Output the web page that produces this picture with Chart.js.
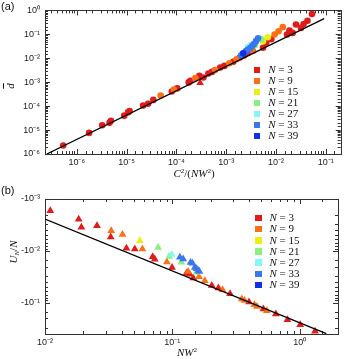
<!DOCTYPE html>
<html>
<head>
<meta charset="utf-8">
<script src="https://cdn.jsdelivr.net/npm/chart.js@4/dist/chart.umd.min.js"></script>
<style>
  body { margin: 0; background: #fff; width: 345px; height: 359px; position: relative; overflow: hidden;
         font-family: "Liberation Sans", Arial, sans-serif; color: #111; }
  canvas { position: absolute; left: 0; }
  #ca { top: 0; }
  #cb { top: 175px; }
  .t { position: absolute; transform: translate(-50%, -50%); white-space: nowrap;
       font-family: "Liberation Serif", "DejaVu Serif", serif; font-size: 11px; }
  .rot { transform: translate(-50%, -50%) rotate(-90deg); }
  .tag { position: absolute; font-size: 11px; }
  .leg { position: absolute; font-family: "Liberation Serif", "DejaVu Serif", serif; font-size: 11px; }
  .leg .row { position: absolute; left: 0; height: 11px; line-height: 11px; white-space: nowrap; }
  .leg .sq { position: absolute; left: 0; top: 2.5px; width: 6.5px; height: 6.5px; }
  .leg .tx { position: absolute; left: 14.5px; top: 0; }
  sup { font-size: 7px; vertical-align: 4px; line-height: 0; }
  sub { font-size: 7px; vertical-align: -2px; line-height: 0; }
</style>
</head>
<body>
<canvas id="ca" width="345" height="180"></canvas>
<canvas id="cb" width="345" height="184"></canvas>

<div class="tag" style="left:1px;top:0px">(a)</div>
<div class="tag" style="left:1px;top:184px">(b)</div>
<div class="t rot" style="left:10px;top:86px"><i style="text-decoration:overline">d</i></div>
<div class="t" style="left:194px;top:173px"><i>C</i><sup>2</sup>/(<i>NW</i><sup>2</sup>)</div>
<div class="t rot" style="left:13px;top:252px"><i>U</i><sub><i>N</i></sub>/<i>N</i></div>
<div class="t" style="left:187px;top:352px"><i>NW</i><sup>2</sup></div>
<div class="leg" id="lega" style="left:253.75px;top:64.2px"></div>
<div class="leg" id="legb" style="left:255px;top:212.2px"></div>

<script>
// valores
const nLabels = ['3', '9', '15', '21', '27', '33', '39'];

// (a) dbar contra C^2/(NW^2)
const aX3 = [5.33e-7, 1.77e-6, 3.24e-6, 4.54e-6, 4.85e-6, 9.0e-6, 1.08e-5, 1.15e-5, 2.15e-5, 2.7e-5, 3.45e-5, 8.1e-5,
             1.04e-4, 1.77e-4, 1.91e-4, 2.9e-4, 3.5e-4, 4.4e-4, 5.2e-4, 7.6e-4, 9.2e-4, 1.39e-3, 1.89e-3, 2.3e-3,
             2.75e-3, 5.5e-3, 6.4e-3, 8.1e-3, 1.67e-2, 1.87e-2, 2.17e-2, 2.53e-2, 3.18e-2, 3.6e-2, 4.3e-2, 5.3e-2];
const aY3 = [2.25e-6, 7.6e-6, 1.58e-5, 2.0e-5, 2.45e-5, 4.0e-5, 5.6e-5, 6.2e-5, 1.07e-4, 1.26e-4, 1.82e-4, 4.1e-4,
             5.5e-4, 9.8e-4, 1.15e-3, 1.86e-3, 1.58e-3, 2.3e-3, 2.7e-3, 4.1e-3, 4.8e-3, 7.2e-3, 1.07e-2, 1.32e-2,
             1.66e-2, 2.75e-2, 4.5e-2, 6.2e-2, 9.8e-2, 0.145, 0.115, 0.257, 0.186, 0.27, 0.37, 0.71];
const aX9 = [4.84e-5, 8.9e-5, 2.41e-4, 6.0e-4, 1.16e-3, 1.62e-3, 3.47e-3, 9.4e-3, 1.13e-2, 1.37e-2];
const aY9 = [2.75e-4, 4.9e-4, 1.48e-3, 3.2e-3, 6.2e-3, 9.1e-3, 2.0e-2, 9.8e-2, 0.135, 0.2];
const aX15 = [5.5e-3, 6.9e-3];
const aY15 = [5.2e-2, 7.6e-2];
const aX21 = [3.8e-3, 5.1e-3];
const aY21 = [3.55e-2, 6.2e-2];
const aX27 = [2.75e-3, 3.16e-3];
const aY27 = [2.95e-2, 3.55e-2];
const aX33 = [2.01e-3, 2.31e-3, 2.51e-3, 2.75e-3, 3.03e-3, 3.33e-3, 3.63e-3, 3.98e-3, 4.37e-3];
const aY33 = [1.32e-2, 1.66e-2, 2.0e-2, 2.34e-2, 2.7e-2, 3.24e-2, 3.9e-2, 5.2e-2, 6.9e-2];
const aX39 = [2.2e-3];
const aY39 = [1.6e-2];
const aTriX = [3.0e-4];
const aTriY = [9.5e-4];
const aFitX = [2.5e-7, 9.3e-2];
const aFitY = [1e-6, 0.45];

// (b) U_N/N contra NW^2
const bX3 = [0.0110, 0.0184, 0.0193, 0.0256, 0.0328, 0.0436, 0.0507, 0.0701, 0.0728, 0.0995, 0.129, 0.137,
             0.146, 0.204, 0.230, 0.284, 0.400, 0.519, 0.650, 0.802, 1.01, 1.32];
const bY3 = [-1.68e-3, -2.45e-3, -3.5e-3, -3.26e-3, -5.4e-3, -8.9e-3, -9.2e-3, -1.30e-2, -1.45e-2, -2.09e-2,
             -2.69e-2, -2.81e-2, -3.35e-2, -4.65e-2, -5.2e-2, -6.7e-2, -9.7e-2, -0.132, -0.165, -0.212, -0.265, -0.353];
const bX9 = [0.0331, 0.0406, 0.0582, 0.0906, 0.133, 0.162, 0.180, 0.248, 0.351, 0.369, 0.441, 0.462, 0.552];
const bY9 = [-4.07e-3, -4.86e-3, -9.2e-3, -1.63e-2, -2.5e-2, -3.16e-2, -3.78e-2, -5.6e-2, -8.5e-2, -9.0e-2,
             -0.109, -0.118, -0.143];
const bX15 = [0.0555];
const bY15 = [-6.4e-3];
const bX21 = [0.0773, 0.0946, 0.118, 0.155];
const bY21 = [-8.65e-3, -1.28e-2, -1.66e-2, -2.57e-2];
const bX27 = [0.099];
const bY27 = [-1.17e-2];
const bX33 = [0.1146, 0.1216, 0.139, 0.144, 0.150, 0.155, 0.160, 0.163];
const bY33 = [-1.32e-2, -1.43e-2, -1.68e-2, -1.73e-2, -2.09e-2, -2.22e-2, -2.39e-2, -2.5e-2];
const bX39 = [];
const bY39 = [];
const bFitX = [0.01, 1.62];
const bFitY = [-2.43e-3, -0.394];

const colores = ['#e21a1a', '#fa7014', '#eeee10', '#86f080', '#82f8f8', '#3a76ee', '#1030e8'];

// Junta x e y en puntos. En (b) el eje va en |U_N/N| invertido.
function pts(xs, ys, abs) {
    return xs.map((x, i) => ({ x: x, y: abs ? Math.abs(ys[i]) : ys[i] }));
}

const SUP = { '-': '\u207b', '0': '\u2070', '1': '\u00b9', '2': '\u00b2', '3': '\u00b3', '4': '\u2074',
              '5': '\u2075', '6': '\u2076', '7': '\u2077', '8': '\u2078', '9': '\u2079' };

function esPotencia(v) {
    const e = Math.log10(v);
    return Math.abs(e - Math.round(e)) < 1e-6;
}

function etiqueta(v, signo) {
    if (!esPotencia(v)) return '';
    const e = String(Math.round(Math.log10(v)));
    return signo + '10' + e.split('').map(c => SUP[c]).join('');
}

// Marco y ticks hacia adentro en los cuatro lados
const marco = {
    id: 'marco',
    beforeDatasetsDraw(chart) {
        const a = chart.chartArea;
        const ctx = chart.ctx;
        ctx.save();
        ctx.strokeStyle = '#333';
        ctx.lineWidth = 1;
        ctx.beginPath();
        chart.scales.x.ticks.forEach(t => {
            const p = Math.round(chart.scales.x.getPixelForValue(t.value)) + 0.5;
            if (p < a.left + 0.5 || p > a.right - 0.5) return;
            const l = esPotencia(t.value) ? 5 : 3;
            ctx.moveTo(p, a.bottom); ctx.lineTo(p, a.bottom - l);
            ctx.moveTo(p, a.top); ctx.lineTo(p, a.top + l);
        });
        chart.scales.y.ticks.forEach(t => {
            const p = Math.round(chart.scales.y.getPixelForValue(t.value)) + 0.5;
            if (p < a.top + 0.5 || p > a.bottom - 0.5) return;
            const l = esPotencia(t.value) ? 5 : 3;
            ctx.moveTo(a.left, p); ctx.lineTo(a.left + l, p);
            ctx.moveTo(a.right, p); ctx.lineTo(a.right - l, p);
        });
        ctx.stroke();
        ctx.strokeRect(Math.round(a.left) + 0.5, Math.round(a.top) + 0.5,
                       Math.round(a.right - a.left), Math.round(a.bottom - a.top));
        ctx.restore();
    }
};

function series(listas, estilo, radio, abs) {
    const ds = [];
    listas.forEach((l, i) => {
        ds.push({
            label: 'N = ' + nLabels[i],
            data: pts(l[0], l[1], abs),
            backgroundColor: colores[i],
            borderWidth: 0,
            pointStyle: estilo,
            pointRadius: radio
        });
    });
    return ds;
}

function leyenda(chart, id, paso) {
    const div = document.getElementById(id);
    let html = '';
    chart.data.datasets.filter(d => d.label && d.label.startsWith('N')).forEach((d, i) => {
        html += `<div class="row" style="top:${(i * paso).toFixed(1)}px">
          <span class="sq" style="background:${d.backgroundColor}"></span>
          <span class="tx"><i>N</i> = ${d.label.slice(4)}</span></div>`;
    });
    div.innerHTML = html;
}

function escalas(xmin, xmax, ymin, ymax, yrev, signo, alto) {
    const fuente = { family: '"Liberation Sans", Arial, sans-serif', size: 9 };
    return {
        x: {
            type: 'logarithmic', min: xmin, max: xmax,
            grid: { display: false, drawTicks: false }, border: { display: false },
            ticks: { autoSkip: false, maxRotation: 0, padding: 3, color: '#222', font: fuente,
                     callback: v => etiqueta(v, '') },
            afterFit(s) { s.height = alto; }
        },
        y: {
            type: 'logarithmic', min: ymin, max: ymax, reverse: yrev,
            grid: { display: false, drawTicks: false }, border: { display: false },
            ticks: { autoSkip: false, padding: 5, color: '#222', font: fuente,
                     callback: v => etiqueta(v, signo) },
            afterFit(s) { s.width = 45; }
        }
    };
}

// Panel (a)
const listasA = [[aX3, aY3], [aX9, aY9], [aX15, aY15], [aX21, aY21], [aX27, aY27], [aX33, aY33], [aX39, aY39]];
const dsA = series(listasA, 'circle', 3.3, false).reverse();
dsA.unshift({ label: '', data: pts(aTriX, aTriY, false), backgroundColor: colores[0], borderWidth: 0,
              pointStyle: 'triangle', pointRadius: 4.3 });
dsA.unshift({ label: '', data: pts(aFitX, aFitY, false), showLine: true, borderColor: '#000',
              borderWidth: 1.3, pointRadius: 0 });

const chartA = new Chart(document.getElementById('ca'), {
    type: 'scatter',
    data: { datasets: dsA },
    options: {
        responsive: false, animation: false, devicePixelRatio: 1,
        layout: { padding: { left: 0, top: 9, right: 2, bottom: 0 } },
        plugins: { legend: { display: false }, tooltip: { enabled: false } },
        scales: escalas(2.3e-7, 0.2, 1e-6, 1, false, '', 26)
    },
    plugins: [marco]
});

// Panel (b)
const listasB = [[bX3, bY3], [bX9, bY9], [bX15, bY15], [bX21, bY21], [bX27, bY27], [bX33, bY33], [bX39, bY39]];
const dsB = series(listasB, 'triangle', 4.5, true).reverse();
dsB.unshift({ label: '', data: pts(bFitX, bFitY, true), showLine: true, borderColor: '#000',
              borderWidth: 1.3, pointRadius: 0 });

const chartB = new Chart(document.getElementById('cb'), {
    type: 'scatter',
    data: { datasets: dsB },
    options: {
        responsive: false, animation: false, devicePixelRatio: 1,
        layout: { padding: { left: 0, top: 24, right: 7, bottom: 0 } },
        plugins: { legend: { display: false }, tooltip: { enabled: false } },
        scales: escalas(0.01, 2.0, 1e-3, 0.4, true, '-', 25)
    },
    plugins: [marco]
});

leyenda({ data: { datasets: series(listasA, 'circle', 3.3, false) } }, 'lega', 11);
leyenda({ data: { datasets: series(listasB, 'triangle', 4.5, true) } }, 'legb', 11.2);
</script>
</body>
</html>
